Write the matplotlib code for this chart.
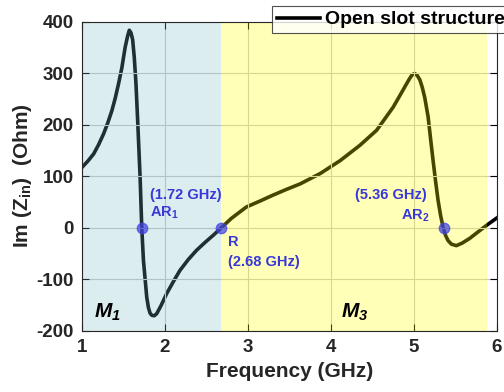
import numpy as np
import matplotlib
matplotlib.use("Agg")
import matplotlib.pyplot as plt

plt.rcParams["font.family"] = ["Liberation Sans", "DejaVu Sans"]
plt.rcParams["mathtext.default"] = "regular"
plt.rcParams["axes.unicode_minus"] = False

# Im(Zin)
freq = [1.00, 1.07, 1.14, 1.20, 1.26, 1.31, 1.36, 1.40, 1.44, 1.48, 1.52, 1.55,
        1.57, 1.59, 1.61, 1.63, 1.65, 1.67, 1.69, 1.70, 1.72, 1.74, 1.78, 1.80,
        1.82, 1.84, 1.87, 1.90, 1.95, 2.02, 2.10, 2.18, 2.28, 2.38, 2.48, 2.58,
        2.68, 2.80, 2.98, 3.15, 3.30, 3.46, 3.63, 3.87, 4.11, 4.35, 4.55, 4.75,
        4.85, 4.91, 4.95, 4.98, 5.01, 5.04, 5.07, 5.10, 5.13, 5.17, 5.20, 5.23,
        5.26, 5.29, 5.32, 5.35, 5.38, 5.41, 5.45, 5.51, 5.58, 5.67, 5.87, 6.00]
im_z = [117, 129, 143, 161, 182, 203, 227, 251, 279, 310, 350, 372,
        383, 378, 365, 330, 280, 210, 135, 98, 0, -63, -135, -155,
        -166, -170, -171, -167, -152, -128, -105, -83, -62, -44, -29, -15,
        0, 18, 40, 52, 63, 74, 85, 105, 130, 160, 189, 234,
        262, 279, 290, 297, 299, 295, 287, 272, 252, 215, 172, 130,
        90, 53, 24, 1, -15, -25, -32, -35, -30, -21, 4, 19]

mark_f = [1.72, 2.68, 5.36]
mark_z = [0, 0, 0]

band_m1 = (1.0, 2.68)
band_m3 = (2.68, 5.88)

fig = plt.figure(figsize=(5.04, 3.92), dpi=100)
ax = fig.add_axes([82 / 504, 1 - 330.7 / 392, 415 / 504, 309.2 / 392])

ax.plot(freq, im_z, color="black", lw=2.6, zorder=2, label="Open slot structure",
        solid_joinstyle="round")
ax.axvspan(*band_m1, color=(0.47, 0.73, 0.77), alpha=0.26, lw=0, zorder=3)
ax.axvspan(*band_m3, color=(1.0, 1.0, 0.0), alpha=0.28, lw=0, zorder=3)
ax.plot(mark_f, mark_z, "o", ms=7.5, color=(0.25, 0.25, 0.9), alpha=0.7,
        mec=(0.25, 0.25, 0.9), zorder=4)

blue = (0.22, 0.22, 0.85)
ann = dict(color=blue, fontsize=10.5, fontweight="bold", va="center", ha="left", zorder=5)
ax.text(1.82, 63, "(1.72 GHz)", **ann)
ax.text(1.82, 28, "AR$_1$", **ann)
ax.text(2.76, -27, "R", **ann)
ax.text(2.76, -67, "(2.68 GHz)", **ann)
ax.text(4.29, 63, "(5.36 GHz)", **ann)
ax.text(4.84, 23, "AR$_2$", **ann)

mk = dict(fontsize=15, fontweight="bold", fontstyle="italic", va="center",
          ha="left", color="black", zorder=5)
ax.text(1.15, -165, "M$_1$", **mk)
ax.text(4.12, -165, "M$_3$", **mk)

ax.set_xlim(1, 6)
ax.set_ylim(-200, 400)
ax.set_xticks([1, 2, 3, 4, 5, 6])
ax.set_yticks([-200, -100, 0, 100, 200, 300, 400])
ax.grid(True, color="#c8c8c8", lw=0.8, zorder=1)
ax.set_axisbelow(False)
ax.tick_params(direction="in", length=5, top=True, right=True,
               labelsize=13.5, width=0.8, pad=6)
for lab in ax.get_xticklabels() + ax.get_yticklabels():
    lab.set_fontweight("bold")
    lab.set_color("#262626")
for sp in ax.spines.values():
    sp.set_color("#262626")
    sp.set_zorder(6)

ax.set_xlabel("Frequency (GHz)", fontsize=15, fontweight="bold", color="#262626", labelpad=4)
ax.set_ylabel("Im (Z$_{in}$)  (Ohm)", fontsize=15, fontweight="bold", color="#262626", labelpad=2)

leg = fig.legend(loc="upper left", bbox_to_anchor=(272 / 504, 1 - 6 / 392),
                 prop={"weight": "bold", "size": 14}, frameon=True, fancybox=False,
                 borderpad=0.25, handlelength=2.2, handletextpad=0.3, borderaxespad=0)
leg.get_frame().set_edgecolor("#262626")
leg.get_frame().set_linewidth(0.8)

fig.savefig("out.png", dpi=100)
